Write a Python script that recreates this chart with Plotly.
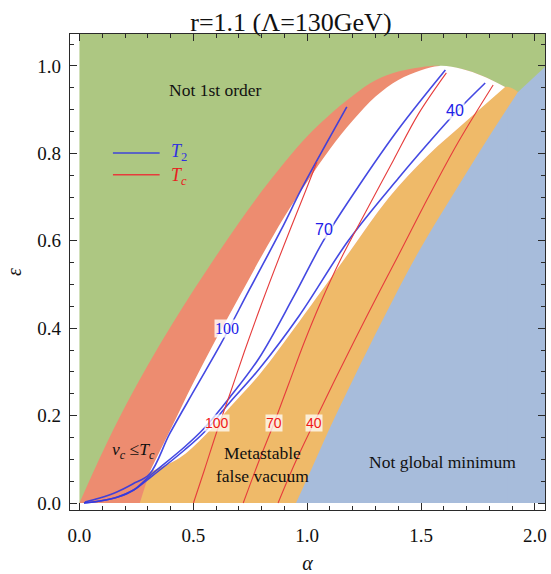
import plotly.graph_objects as go

# ---------------------------------------------------------------
# Phase-structure regions in the (alpha, epsilon) plane
# ---------------------------------------------------------------
# outer edge of the first-order region (green / coloured boundary)
edge_alpha = [0.0, 0.1, 0.2, 0.3, 0.4, 0.5, 0.6, 0.7, 0.8, 0.9, 1.0, 1.1, 1.2, 1.3,
              1.4, 1.5, 1.58, 1.68, 1.77, 1.869, 1.926]
edge_eps = [0.0, 0.115, 0.22, 0.315, 0.403, 0.486, 0.565, 0.641, 0.713, 0.779, 0.839,
            0.889, 0.932, 0.967, 0.987, 0.997, 1.0, 0.993, 0.977, 0.952, 0.9405]

# inner edge of the v_c <= T_c band
band_alpha = [0.265, 0.308, 0.40, 0.50, 0.60, 0.70, 0.80, 0.90, 1.00, 1.10, 1.20,
              1.30, 1.40, 1.50, 1.58]
band_eps = [0.0, 0.071, 0.168, 0.275, 0.375, 0.47, 0.565, 0.655, 0.735, 0.81, 0.875,
            0.93, 0.968, 0.99, 1.0]

# upper edge of the metastable (false vacuum) region
meta_alpha = [0.308, 0.4393, 0.5486, 0.6579, 0.789, 0.964, 1.1825, 1.3574, 1.5322,
              1.694, 1.8689]
meta_eps = [0.071, 0.103, 0.1533, 0.2174, 0.2929, 0.4142, 0.5721, 0.698, 0.7963,
            0.8719, 0.952]

# edge of the "not global minimum" region
glob_alpha = [0.9508, 1.0208, 1.0951, 1.2044, 1.3355, 1.4885, 1.6634, 1.7945, 1.9257]
glob_eps = [0.0, 0.0801, 0.167, 0.286, 0.4233, 0.5744, 0.7254, 0.8352, 0.9405]
# its upper edge against the "not 1st order" region
glob_top_alpha = [1.88, 1.9257, 2.0437, 2.1]
glob_top_eps = [0.899, 0.9405, 0.9977, 1.025]

# ---------------------------------------------------------------
# Temperature contours (GeV)
# ---------------------------------------------------------------
t2_levels = [100, 70, 40]
t2_100_alpha = [0.024, 0.0896, 0.164, 0.234, 0.308, 0.3956, 0.5049, 0.623, 0.7454,
                0.8852, 0.9727, 1.0732, 1.1738]
t2_100_eps = [0.0023, 0.0114, 0.0252, 0.0435, 0.0664, 0.1579, 0.2586, 0.3661, 0.4874,
              0.6247, 0.7162, 0.8124, 0.9062]
t2_70_alpha = [0.0197, 0.0896, 0.168, 0.238, 0.308, 0.4612, 0.5486, 0.6579, 0.789,
               0.942, 1.0732, 1.2262, 1.4011, 1.6066]
t2_70_eps = [0.0, 0.0046, 0.0137, 0.0297, 0.0618, 0.1281, 0.1716, 0.2403, 0.3318,
             0.4737, 0.6018, 0.7254, 0.8558, 0.9908]
t2_40_alpha = [0.0197, 0.0896, 0.168, 0.238, 0.308, 0.4612, 0.5486, 0.6579, 0.789,
               0.964, 1.1825, 1.4011, 1.5322, 1.65, 1.7814]
t2_40_eps = [0.0, 0.0046, 0.0137, 0.0297, 0.0572, 0.1213, 0.1625, 0.2288, 0.3066,
             0.4279, 0.6018, 0.7437, 0.8238, 0.8924, 0.961]

tc_levels = [100, 70, 40]
tc_100_alpha = [0.5005, 0.5486, 0.6055, 0.6667, 0.7235, 0.7978, 0.8984, 0.9945, 1.0426]
tc_100_eps = [0.0, 0.0755, 0.167, 0.2586, 0.3455, 0.4531, 0.5904, 0.7162, 0.7803]
tc_70_alpha = [0.7191, 0.7847, 0.8546, 0.9202, 0.9858, 1.0601, 1.1519, 1.2612, 1.3792,
               1.4885, 1.6109]
tc_70_eps = [0.0, 0.0915, 0.1831, 0.2746, 0.3661, 0.46, 0.5629, 0.6705, 0.7849, 0.8902,
             0.984]
tc_40_alpha = [0.8721, 0.9464, 1.0295, 1.1169, 1.2087, 1.3049, 1.4011, 1.5322, 1.6634,
               1.8164]
tc_40_eps = [0.0, 0.0915, 0.1831, 0.2769, 0.373, 0.4714, 0.5675, 0.7002, 0.8261, 0.9565]

# contour label anchor points
t2_label_alpha = [0.649, 1.073, 1.650]
t2_label_eps = [0.400, 0.625, 0.899]
tc_label_alpha = [0.6055, 0.8546, 1.0295]
tc_label_eps = [0.183, 0.183, 0.183]

X_RANGE = [-0.0415, 2.044]
Y_RANGE = [-0.016, 1.073]
FAR = 2.1  # fills run past the right frame and are clipped there

SERIF = "Liberation Serif, Times New Roman, serif"
SANS = "Liberation Sans, Arial, sans-serif"

GREEN = "#adc782"
RED = "#ed8c70"
ORANGE = "#efba69"
BLUE = "#a7bcdb"
LINE_BLUE = "rgba(52,58,224,0.92)"
LINE_RED = "#e63c3c"

fig = go.Figure()


def area(xs, ys, color, fill="tozeroy", smooth=True):
    fig.add_trace(go.Scatter(
        x=list(xs), y=list(ys), mode="lines", fill=fill, fillcolor=color,
        line=dict(width=0, color=color, shape="spline" if smooth else "linear",
                  smoothing=1.0),
        hoverinfo="skip", showlegend=False))


# not first order: the whole parameter plane underneath
area([0, FAR, FAR, 0], [0, 0, 1.2, 1.2], GREEN, fill="toself", smooth=False)

# first-order region; the v_c <= T_c band is what stays uncovered
area(edge_alpha, edge_eps, RED)

# metastable false vacuum: lower tip, then the curved upper edge
area(band_alpha[:2] + [0.40], band_eps[:2] + [band_eps[1]], ORANGE, smooth=False)
area(meta_alpha + [edge_alpha[-1]], meta_eps + [edge_eps[-1]], ORANGE)

# strongly first-order (white) region between the metastable edge and the band
apex = edge_alpha.index(1.58)
tail = [i for i in range(apex + 1, len(edge_alpha)) if edge_alpha[i] < meta_alpha[-1]]
fig.add_trace(go.Scatter(x=meta_alpha, y=meta_eps, mode="lines",
                         line=dict(width=0, shape="spline", smoothing=1.0),
                         hoverinfo="skip", showlegend=False))
area(band_alpha[1:] + [edge_alpha[i] for i in tail] + [meta_alpha[-1]],
     band_eps[1:] + [edge_eps[i] for i in tail] + [meta_eps[-1]],
     "#ffffff", fill="tonexty")

# not global minimum
area(glob_alpha, glob_eps, BLUE)
area(glob_top_alpha + [FAR], glob_top_eps + [glob_top_eps[-1]], BLUE, smooth=False)

# T2 and Tc contours
for xs, ys in [(t2_100_alpha, t2_100_eps), (t2_70_alpha, t2_70_eps), (t2_40_alpha, t2_40_eps)]:
    fig.add_trace(go.Scatter(x=xs, y=ys, mode="lines",
                             line=dict(color=LINE_BLUE, width=1.6, shape="spline"),
                             hoverinfo="skip", showlegend=False))
for xs, ys in [(tc_100_alpha, tc_100_eps), (tc_70_alpha, tc_70_eps), (tc_40_alpha, tc_40_eps)]:
    fig.add_trace(go.Scatter(x=xs, y=ys, mode="lines",
                             line=dict(color=LINE_RED, width=1.1, shape="spline"),
                             hoverinfo="skip", showlegend=False))

annotations = []
# contour labels
for lvl, xa, ya in zip(t2_levels, t2_label_alpha, t2_label_eps):
    annotations.append(dict(
        x=xa, y=ya, text=str(lvl), showarrow=False,
        font=dict(family=SERIF if lvl == 100 else SANS, size=16, color="#2020e8"),
        bgcolor="rgba(255,255,255,0.8)", borderpad=0))
for lvl, xa, ya in zip(tc_levels, tc_label_alpha, tc_label_eps):
    annotations.append(dict(
        x=xa, y=ya, text=str(lvl), showarrow=False,
        font=dict(family=SANS, size=14, color="#f01818"),
        bgcolor="rgba(255,255,255,0.75)", borderpad=0))

# region names
txt = dict(family=SERIF, size=17.5, color="#111111")
annotations += [
    dict(x=0.597, y=0.945, text="Not 1st order", showarrow=False, font=txt),
    dict(x=0.238, y=0.121, text="<i>v</i><sub><i>c</i></sub> ≤<i>T</i><sub><i>c</i></sub>",
         showarrow=False, font=txt),
    dict(x=0.802, y=0.089, text="Metastable<br>false vacuum", showarrow=False, font=txt),
    dict(x=1.594, y=0.094, text="Not global minimum", showarrow=False, font=txt),
]

# legend keys
shapes = [
    dict(type="line", x0=0.147, x1=0.352, y0=0.801, y1=0.801,
         line=dict(color=LINE_BLUE, width=1.5)),
    dict(type="line", x0=0.147, x1=0.352, y0=0.751, y1=0.751,
         line=dict(color=LINE_RED, width=1.5)),
]
annotations += [
    dict(x=0.395, y=0.801, xanchor="left", text="<i>T</i><sub>2</sub>", showarrow=False,
         font=dict(family=SERIF, size=18, color="#3030e0")),
    dict(x=0.395, y=0.748, xanchor="left", text="<i>T</i><sub><i>c</i></sub>", showarrow=False,
         font=dict(family=SERIF, size=18, color="#e82020")),
]

axis_common = dict(
    showgrid=False, zeroline=False, showline=True, linecolor="#2a2a2a", linewidth=1.4,
    mirror="allticks", ticks="inside", ticklen=7, tickwidth=1, tickcolor="#2a2a2a",
    tickfont=dict(family=SERIF, size=19, color="#111111"),
)

fig.update_layout(
    width=551, height=574,
    margin=dict(l=70, r=4, t=34, b=64),
    paper_bgcolor="white", plot_bgcolor="white",
    title=dict(text="r=1.1 (Λ=130GeV)", x=0.528, xref="container", xanchor="center",
               y=0.962, yref="container", yanchor="middle",
               font=dict(family=SERIF, size=26, color="#111111")),
    xaxis=dict(axis_common, range=X_RANGE, tickvals=[0, 0.5, 1.0, 1.5, 2.0],
               ticktext=["0.0", "0.5", "1.0", "1.5", "2.0"], ticklabelstandoff=8,
               minor=dict(dtick=0.1, tick0=0, ticks="inside", ticklen=4, tickcolor="#2a2a2a"),
               title=dict(text="<i>α</i>", font=dict(family=SERIF, size=20, color="#111111"),
                          standoff=10)),
    yaxis=dict(axis_common, range=Y_RANGE, tickvals=[0, 0.2, 0.4, 0.6, 0.8, 1.0],
               ticktext=["0.0", "0.2", "0.4", "0.6", "0.8", "1.0"], ticklabelstandoff=4,
               minor=dict(dtick=0.05, tick0=0, ticks="inside", ticklen=4, tickcolor="#2a2a2a"),
               title=dict(text="<i>ε</i>", font=dict(family=SERIF, size=20, color="#111111"),
                          standoff=10)),
    annotations=annotations,
    shapes=shapes,
)

fig.write_html("out.html")
